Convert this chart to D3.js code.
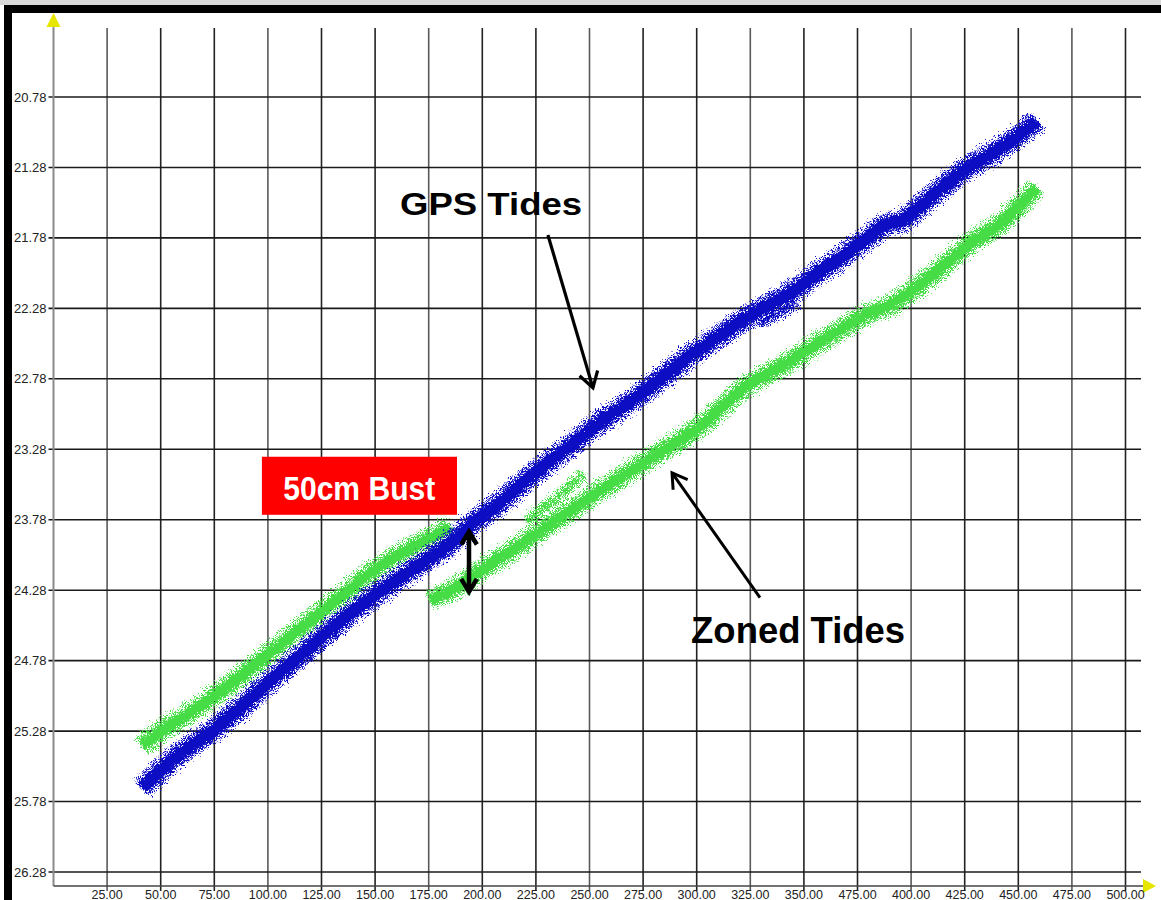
<!DOCTYPE html>
<html>
<head>
<meta charset="utf-8">
<script src="https://cdn.jsdelivr.net/npm/d3@7"></script>
<style>
  html, body { margin: 0; padding: 0; background: #fff; }
  svg { display: block; }
  text { font-family: "Liberation Sans", Arial, sans-serif; }
</style>
</head>
<body>
<script>
// ---------- DATA ----------
const xTickValues = [25, 50, 75, 100, 125, 150, 175, 200, 225, 250, 275, 300, 325, 350, 375, 400, 425, 450, 475, 500];
const xTickLabels = ["25.00", "50.00", "75.00", "100.00", "125.00", "150.00", "175.00", "200.00", "225.00", "250.00",
                     "275.00", "300.00", "325.00", "350.00", "475.00", "400.00", "425.00", "450.00", "475.00", "500.00"];
const yTickValues = [20.78, 21.28, 21.78, 22.28, 22.78, 23.28, 23.78, 24.28, 24.78, 25.28, 25.78, 26.28];
const yTickLabels = ["20.78", "21.28", "21.78", "22.28", "22.78", "23.28", "23.78", "24.28", "24.78", "25.28", "25.78", "26.28"];

// GPS Tides (blue) band centre line: [distance, depth]
const gpsTides = [
  [41.3, 25.684], [49.7, 25.563], [61.3, 25.414], [74.4, 25.279], [87.0, 25.116], [98.6, 24.960],
  [110.3, 24.804], [122.0, 24.655], [133.6, 24.506], [146.2, 24.357], [156.9, 24.243], [169.6, 24.109],
  [182.6, 23.981], [197.5, 23.782], [208.2, 23.661], [219.9, 23.505], [229.2, 23.392], [240.9, 23.257],
  [250.2, 23.143], [261.9, 23.016], [273.5, 22.895], [285.2, 22.753], [296.9, 22.618], [308.5, 22.498],
  [320.2, 22.377], [331.9, 22.270], [343.5, 22.171], [355.2, 22.043], [366.9, 21.923], [378.5, 21.795],
  [388.8, 21.681], [394.8, 21.667], [399.5, 21.617], [412.1, 21.454], [424.2, 21.305], [438.2, 21.177],
  [449.4, 21.064], [458.7, 20.950]
];
const gpsTidesStub = [[328.1, 22.391], [338.8, 22.306], [346.8, 22.235]];

// Zoned Tides (green) band: first zone, then second zone after the bust
const zonedTidesA = [
  [41.3, 25.386], [49.7, 25.287], [61.3, 25.173], [73.0, 25.053], [87.0, 24.896], [98.6, 24.754],
  [110.3, 24.612], [122.0, 24.470], [133.6, 24.336], [145.3, 24.187], [157.0, 24.066], [168.7, 23.967],
  [180.3, 23.874], [185.0, 23.832]
];
const zonedTidesB = [
  [175.6, 24.350], [185.0, 24.286], [194.3, 24.194], [205.9, 24.073], [217.6, 23.960], [229.2, 23.839],
  [240.9, 23.718], [252.6, 23.598], [264.2, 23.484], [275.9, 23.370], [287.6, 23.257], [300.2, 23.136],
  [311.9, 22.980], [324.8, 22.817], [336.5, 22.718], [348.2, 22.611], [357.5, 22.519], [369.2, 22.412],
  [380.9, 22.313], [390.2, 22.256], [399.5, 22.164], [408.8, 22.057], [418.2, 21.937], [429.8, 21.795],
  [441.5, 21.681], [450.8, 21.546], [458.7, 21.426]
];
const zonedTidesStub = [[220.8, 23.789], [233.9, 23.640], [247.0, 23.449]];

// Annotations (in data units)
const gpsLabel = { text: "GPS Tides", x: 204.1, y: 21.617 };
const zonedLabel = { text: "Zoned Tides", x: 347.3, y: 24.652 };
const bustLabel = { text: "50cm Bust", x0: 97.2, x1: 188.2, y0: 23.333, y1: 23.745, tx: 142.6, ty: 23.638 };
const gpsArrow = [[230.6, 21.759], [251.6, 22.844]];
const zonedArrow = [[329.5, 24.333], [288.5, 23.447]];
const bustArrow = [[193.8, 23.865], [193.8, 24.291]];

// ---------- LAYOUT ----------
const W = 1161, H = 900;
const svg = d3.select("body").append("svg").attr("width", W).attr("height", H);

const x = d3.scaleLinear().domain([0, 500]).range([53.5, 1125.5]);
const y = d3.scaleLinear().domain([20.78, 26.28]).range([97, 872]);

const axisTop = 27, axisBottom = 886, gridRight = 1141, axisRight = 1146;

// filters for the scatter-cloud look
const defs = svg.append("defs");
const rough = defs.append("filter").attr("id", "rough").attr("x", "-10%").attr("y", "-10%").attr("width", "120%").attr("height", "120%");
rough.append("feTurbulence").attr("type", "fractalNoise").attr("baseFrequency", 0.9).attr("numOctaves", 2).attr("seed", 3).attr("result", "n");
rough.append("feDisplacementMap").attr("in", "SourceGraphic").attr("in2", "n").attr("scale", 8)
  .attr("xChannelSelector", "R").attr("yChannelSelector", "G");

function speckFilter(id, seed, bias) {
  const f = defs.append("filter").attr("id", id).attr("x", "-10%").attr("y", "-10%").attr("width", "120%").attr("height", "120%");
  f.append("feTurbulence").attr("type", "fractalNoise").attr("baseFrequency", 1.4).attr("numOctaves", 1).attr("seed", seed).attr("result", "n");
  f.append("feColorMatrix").attr("in", "n").attr("type", "matrix")
    .attr("values", `0 0 0 0 0  0 0 0 0 0  0 0 0 0 0  0 0 12 0 ${bias}`).attr("result", "m");
  f.append("feDisplacementMap").attr("in", "SourceGraphic").attr("in2", "n").attr("scale", 14)
    .attr("xChannelSelector", "G").attr("yChannelSelector", "R").attr("result", "d");
  f.append("feComposite").attr("in", "d").attr("in2", "m").attr("operator", "in");
}
speckFilter("speck", 7, -5.4);
speckFilter("speckLight", 11, -6.2);

// ---------- FRAME ----------
svg.append("rect").attr("x", 0).attr("y", 0).attr("width", W).attr("height", 5).attr("fill", "#d9d9d9");
svg.append("rect").attr("x", 4).attr("y", 5).attr("width", W - 4).attr("height", 8).attr("fill", "#000");
svg.append("rect").attr("x", 4).attr("y", 5).attr("width", 8).attr("height", H - 5).attr("fill", "#000");

// ---------- GRID ----------
const grid = svg.append("g");
grid.selectAll("line.v").data(xTickValues).join("line")
  .attr("x1", d => x(d)).attr("x2", d => x(d))
  .attr("y1", axisTop + 1).attr("y2", axisBottom + 5)
  .attr("stroke", (d, i) => (i % 3 === 0 ? "#5a5a5a" : "#222"))
  .attr("stroke-width", 1.6);
grid.selectAll("line.h").data(yTickValues).join("line")
  .attr("x1", x(0) - 5).attr("x2", gridRight)
  .attr("y1", d => y(d)).attr("y2", d => y(d))
  .attr("stroke", "#1a1a1a").attr("stroke-width", 1.6);

// axes
svg.append("line").attr("x1", x(0)).attr("x2", x(0)).attr("y1", axisTop).attr("y2", axisBottom)
  .attr("stroke", "#8a8a8a").attr("stroke-width", 2);
svg.append("line").attr("x1", x(0)).attr("x2", axisRight).attr("y1", axisBottom).attr("y2", axisBottom)
  .attr("stroke", "#444").attr("stroke-width", 1.6);
// yellow arrow heads
svg.append("path").attr("d", `M${x(0)},13 L${x(0) - 7},27 L${x(0) + 7},27 Z`).attr("fill", "#e6e600");
svg.append("path").attr("d", `M1156,${axisBottom} L1143,${axisBottom - 7} L1143,${axisBottom + 7} Z`).attr("fill", "#e6e600");

// tick labels
svg.append("g").selectAll("text").data(yTickValues).join("text")
  .attr("x", x(0) - 7).attr("y", d => y(d)).attr("dy", "0.35em")
  .attr("text-anchor", "end").attr("font-size", 13).attr("fill", "#222")
  .text((d, i) => yTickLabels[i]);
svg.append("g").selectAll("text").data(xTickValues).join("text")
  .attr("x", d => x(d)).attr("y", 898.5)
  .attr("text-anchor", "middle").attr("font-size", 12.5).attr("fill", "#222")
  .text((d, i) => xTickLabels[i]);

// ---------- BANDS ----------
const line = d3.line().x(d => x(d[0])).y(d => y(d[1])).curve(d3.curveCatmullRom.alpha(0.5));
const BLUE = "#0c0cc4", GREEN = "#45dc45";

function band(data, color, halo, core, coreOpacity) {
  const g = svg.append("g");
  g.append("path").attr("d", line(data)).attr("fill", "none").attr("stroke", color)
    .attr("stroke-width", halo + 6).attr("stroke-linecap", "butt").attr("filter", "url(#speckLight)");
  g.append("path").attr("d", line(data)).attr("fill", "none").attr("stroke", color)
    .attr("stroke-width", halo).attr("stroke-linecap", "butt").attr("filter", "url(#speck)");
  g.append("path").attr("d", line(data)).attr("fill", "none").attr("stroke", color)
    .attr("stroke-width", core).attr("stroke-opacity", coreOpacity).attr("stroke-linecap", "butt").attr("filter", "url(#rough)");
}
band(zonedTidesA, GREEN, 17, 10, 1);
band(zonedTidesB, GREEN, 17, 10, 1);
band(zonedTidesStub, GREEN, 9, 2, 0.5);
band(gpsTides, BLUE, 19, 12, 1);
band(gpsTidesStub, BLUE, 9, 3, 0.5);

// ---------- ANNOTATIONS ----------
function arrowHead(g, from, to, len, ang, sw) {
  const a = Math.atan2(y(to[1]) - y(from[1]), x(to[0]) - x(from[0]));
  const tx = x(to[0]), ty = y(to[1]);
  const p1 = [tx - len * Math.cos(a - ang), ty - len * Math.sin(a - ang)];
  const p2 = [tx - len * Math.cos(a + ang), ty - len * Math.sin(a + ang)];
  g.append("path").attr("d", `M${p1[0]},${p1[1]} L${tx},${ty} L${p2[0]},${p2[1]}`)
    .attr("fill", "none").attr("stroke", "#000").attr("stroke-width", sw)
    .attr("stroke-linejoin", "miter").attr("stroke-linecap", "butt");
}
function arrow(pts, sw, len, both) {
  const g = svg.append("g");
  g.append("line").attr("x1", x(pts[0][0])).attr("y1", y(pts[0][1]))
    .attr("x2", x(pts[1][0])).attr("y2", y(pts[1][1]))
    .attr("stroke", "#000").attr("stroke-width", sw);
  arrowHead(g, pts[0], pts[1], len, 0.55, sw);
  if (both) arrowHead(g, pts[1], pts[0], len, 0.55, sw);
}
arrow(gpsArrow, 3.2, 18, false);
arrow(zonedArrow, 3, 17, false);
arrow(bustArrow, 4.5, 15, true);

svg.append("text").attr("x", x(gpsLabel.x)).attr("y", y(gpsLabel.y))
  .attr("text-anchor", "middle").attr("font-size", 32).attr("font-weight", "bold").attr("fill", "#000")
  .attr("textLength", 182).attr("lengthAdjust", "spacingAndGlyphs").text(gpsLabel.text);
svg.append("text").attr("x", x(zonedLabel.x)).attr("y", y(zonedLabel.y))
  .attr("text-anchor", "middle").attr("font-size", 36).attr("font-weight", "bold").attr("fill", "#000")
  .attr("textLength", 214).attr("lengthAdjust", "spacingAndGlyphs").text(zonedLabel.text);

svg.append("rect").attr("x", x(bustLabel.x0)).attr("y", y(bustLabel.y0))
  .attr("width", x(bustLabel.x1) - x(bustLabel.x0)).attr("height", y(bustLabel.y1) - y(bustLabel.y0))
  .attr("fill", "#ff0000");
svg.append("text").attr("x", x(bustLabel.tx)).attr("y", y(bustLabel.ty))
  .attr("text-anchor", "middle").attr("font-size", 34).attr("font-weight", "bold").attr("fill", "#fff")
  .attr("textLength", 152).attr("lengthAdjust", "spacingAndGlyphs").text(bustLabel.text);
</script>
</body>
</html>
